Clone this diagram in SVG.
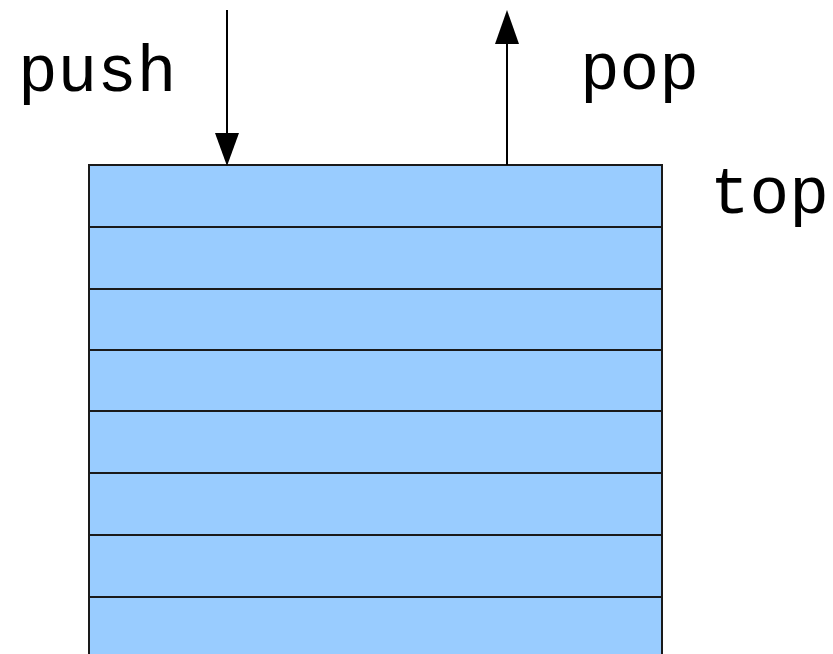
<svg xmlns="http://www.w3.org/2000/svg" width="833" height="654" viewBox="0 0 833 654">
<style>
.cell{fill:#99ccff;stroke:#1a1a1a;stroke-width:2}
.lbl{font-family:"Liberation Mono","Courier New",monospace;font-size:66px;fill:#000}
.conn{stroke:#000;stroke-width:2;fill:none}
</style>
<defs>
<marker id="ah" viewBox="0 0 24 32" refX="24" refY="12" markerUnits="userSpaceOnUse" markerWidth="32" markerHeight="24" orient="auto">
<path d="M0,0 L32,12 L0,24 Z" fill="#000"/>
</marker>
</defs>
<rect width="833" height="654" fill="#fff"/>
<g id="stack">
<rect class="cell" x="89" y="165" width="573" height="62"/>
<rect class="cell" x="89" y="227" width="573" height="62"/>
<rect class="cell" x="89" y="289" width="573" height="61"/>
<rect class="cell" x="89" y="350" width="573" height="61"/>
<rect class="cell" x="89" y="411" width="573" height="62"/>
<rect class="cell" x="89" y="473" width="573" height="62"/>
<rect class="cell" x="89" y="535" width="573" height="62"/>
<rect class="cell" x="89" y="597" width="573" height="70"/>
</g>
<g id="connectors">
<line class="conn" x1="227" y1="10" x2="227" y2="140"/>
<polygon points="215,133 239,133 227,166" fill="#000"/>
<line class="conn" x1="507" y1="165" x2="507" y2="38"/>
<polygon points="495,44 519,44 507,10" fill="#000"/>
</g>
<g id="label-push"><text class="lbl" x="18" y="91">push</text></g>
<g id="label-pop"><text class="lbl" x="580" y="89">pop</text></g>
<g id="label-top"><text class="lbl" x="710" y="213">top</text></g>
</svg>
